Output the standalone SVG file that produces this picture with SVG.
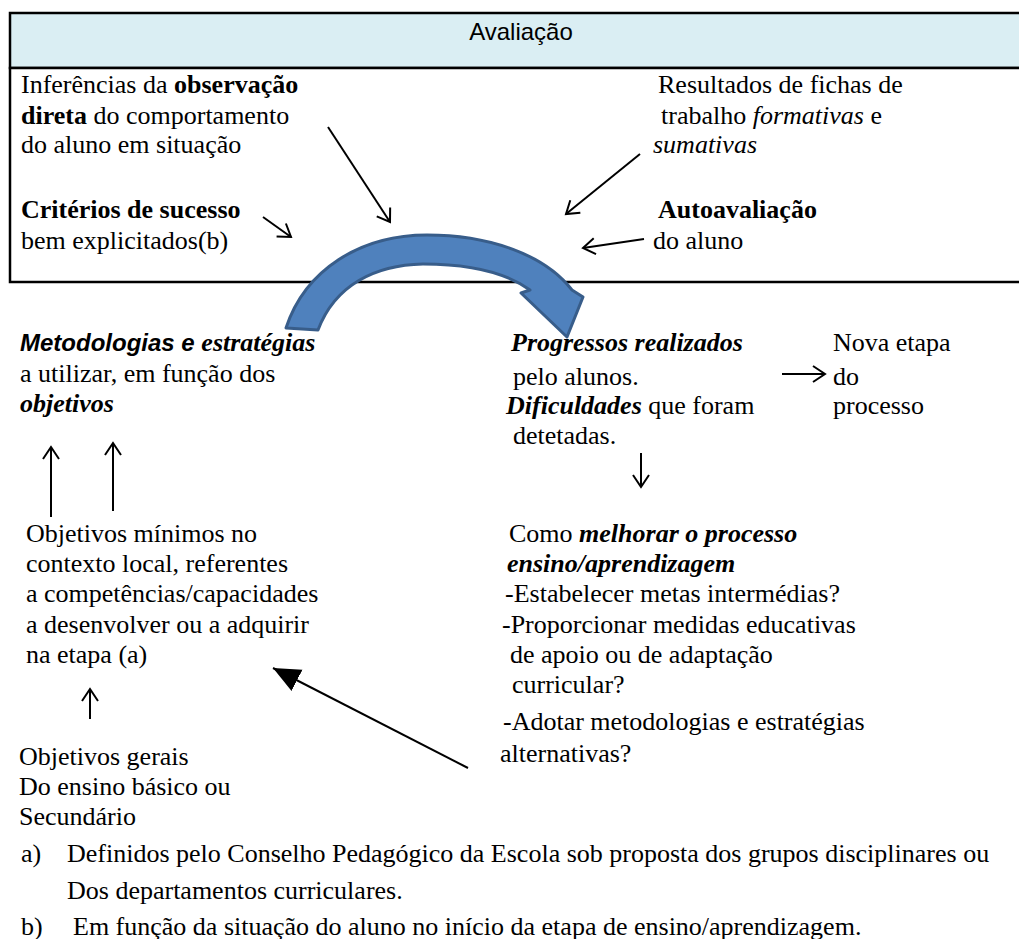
<svg xmlns="http://www.w3.org/2000/svg" width="1019" height="939" viewBox="0 0 1019 939">
<defs>
<marker id="open" markerUnits="userSpaceOnUse" markerWidth="30" markerHeight="30" refX="14" refY="10" orient="auto" viewBox="0 0 30 20">
<polyline points="2,2 14,10 2,18" fill="none" stroke="#000" stroke-width="2"/>
</marker>
<marker id="solid" markerUnits="userSpaceOnUse" markerWidth="30" markerHeight="30" refX="18" refY="8" orient="auto" viewBox="0 0 20 16">
<polygon points="0,0 18,8 0,16" fill="#000"/>
</marker>
</defs>
<rect width="1019" height="939" fill="#fff"/>
<g id="box">
<rect x="10" y="13" width="1030" height="55" fill="#daeef3" stroke="#000" stroke-width="2.5"/>
<rect x="10" y="68" width="1030" height="214" fill="#fff" stroke="#000" stroke-width="2.5"/>
<text x="521" y="40" text-anchor="middle" font-family="Liberation Sans" font-size="24">Avaliação</text>
</g>
<g id="obs"><text font-family="Liberation Serif" font-size="26" x="21" y="93">Inferências da <tspan font-weight="bold">observação</tspan></text>
<text font-family="Liberation Serif" font-size="26" x="21" y="124"><tspan font-weight="bold">direta</tspan> do comportamento</text>
<text font-family="Liberation Serif" font-size="26" x="21" y="153">do aluno em situação</text></g>
<g id="crit"><text font-family="Liberation Serif" font-size="26" font-weight="bold" x="21" y="218">Critérios de sucesso</text>
<text font-family="Liberation Serif" font-size="26" x="21" y="249">bem explicitados(b)</text></g>
<g id="fichas"><text font-family="Liberation Serif" font-size="26" x="658" y="93">Resultados de fichas de</text>
<text font-family="Liberation Serif" font-size="26" x="661" y="124">trabalho <tspan font-style="italic">formativas</tspan> e</text>
<text font-family="Liberation Serif" font-size="26" font-style="italic" x="653" y="153">sumativas</text></g>
<g id="auto"><text font-family="Liberation Serif" font-size="26" font-weight="bold" x="658" y="218">Autoavaliação</text>
<text font-family="Liberation Serif" font-size="26" x="653" y="249">do aluno</text></g>
<g id="connectors" stroke="#000" stroke-width="2" fill="none">
<line x1="328" y1="127" x2="390" y2="222" marker-end="url(#open)"/>
<line x1="640" y1="154" x2="566" y2="214" marker-end="url(#open)"/>
<line x1="263" y1="217" x2="291" y2="237" marker-end="url(#open)"/>
<line x1="644" y1="239" x2="583" y2="248" marker-end="url(#open)"/>
<line x1="51" y1="517" x2="51" y2="447" marker-end="url(#open)"/>
<line x1="113" y1="511" x2="113" y2="443" marker-end="url(#open)"/>
<line x1="90" y1="719" x2="90" y2="689" marker-end="url(#open)"/>
<line x1="782" y1="374" x2="825" y2="374" marker-end="url(#open)"/>
<line x1="641" y1="453" x2="641" y2="487" marker-end="url(#open)"/>
<line x1="468" y1="768" x2="273" y2="668" marker-end="url(#solid)"/>
</g>
<g id="curved-arrow">
<path d="M286 328 C305 270 360 235 427 235 C490 235 545 255 572 290 L583 297 L567 337 L521 293 L530 290 C505 272 470 264 423 264 C375 265 335 285 318 330 Z" fill="#4f81bd" stroke="#385d8a" stroke-width="3" stroke-linejoin="round"/>
</g>
<g id="metodologias"><text font-family="Liberation Serif" font-size="26" x="20" y="351"><tspan font-weight="bold" font-style="italic" font-family="Liberation Sans" font-size="24">Metodologias e </tspan><tspan font-weight="bold" font-style="italic">estratégias</tspan></text>
<text font-family="Liberation Serif" font-size="26" x="20" y="382">a utilizar, em função dos</text>
<text font-family="Liberation Serif" font-size="26" font-weight="bold" font-style="italic" x="20" y="412">objetivos</text></g>
<g id="minimos"><text font-family="Liberation Serif" font-size="26" x="26" y="542">Objetivos mínimos no</text>
<text font-family="Liberation Serif" font-size="26" x="26" y="572">contexto local, referentes</text>
<text font-family="Liberation Serif" font-size="26" x="26" y="602">a competências/capacidades</text>
<text font-family="Liberation Serif" font-size="26" x="26" y="633">a desenvolver ou a adquirir</text>
<text font-family="Liberation Serif" font-size="26" x="26" y="663">na etapa (a)</text></g>
<g id="gerais"><text font-family="Liberation Serif" font-size="26" x="19" y="765">Objetivos gerais</text>
<text font-family="Liberation Serif" font-size="26" x="19" y="795">Do ensino básico ou</text>
<text font-family="Liberation Serif" font-size="26" x="19" y="825">Secundário</text></g>
<g id="progressos"><text font-family="Liberation Serif" font-size="26" font-weight="bold" font-style="italic" x="511" y="351">Progressos realizados</text>
<text font-family="Liberation Serif" font-size="26" x="513" y="385">pelo alunos.</text>
<text font-family="Liberation Serif" font-size="26" x="506" y="414"><tspan font-weight="bold" font-style="italic">Dificuldades</tspan> que foram</text>
<text font-family="Liberation Serif" font-size="26" x="513" y="444">detetadas.</text></g>
<g id="nova"><text font-family="Liberation Serif" font-size="26" x="833" y="351">Nova etapa</text>
<text font-family="Liberation Serif" font-size="26" x="833" y="385">do</text>
<text font-family="Liberation Serif" font-size="26" x="833" y="414">processo</text></g>
<g id="melhorar"><text font-family="Liberation Serif" font-size="26" x="509" y="542">Como <tspan font-weight="bold" font-style="italic">melhorar o processo</tspan></text>
<text font-family="Liberation Serif" font-size="26" font-weight="bold" font-style="italic" x="507" y="572">ensino/aprendizagem</text>
<text font-family="Liberation Serif" font-size="26" x="505" y="602">-Estabelecer metas intermédias?</text>
<text font-family="Liberation Serif" font-size="26" x="502" y="633">-Proporcionar medidas educativas</text>
<text font-family="Liberation Serif" font-size="26" x="510" y="663">de apoio ou de adaptação</text>
<text font-family="Liberation Serif" font-size="26" x="512" y="693">curricular?</text>
<text font-family="Liberation Serif" font-size="26" x="503" y="730">-Adotar metodologias e estratégias</text>
<text font-family="Liberation Serif" font-size="26" x="500" y="762">alternativas?</text></g>
<g id="notas"><text font-family="Liberation Serif" font-size="26" x="21" y="862">a)</text>
<text font-family="Liberation Serif" font-size="26" x="67" y="862">Definidos pelo Conselho Pedagógico da Escola sob proposta dos grupos disciplinares ou</text>
<text font-family="Liberation Serif" font-size="26" x="67" y="899">Dos departamentos curriculares.</text>
<text font-family="Liberation Serif" font-size="26" x="21" y="935">b)</text>
<text font-family="Liberation Serif" font-size="26" x="73" y="935">Em função da situação do aluno no início da etapa de ensino/aprendizagem.</text></g>
</svg>
